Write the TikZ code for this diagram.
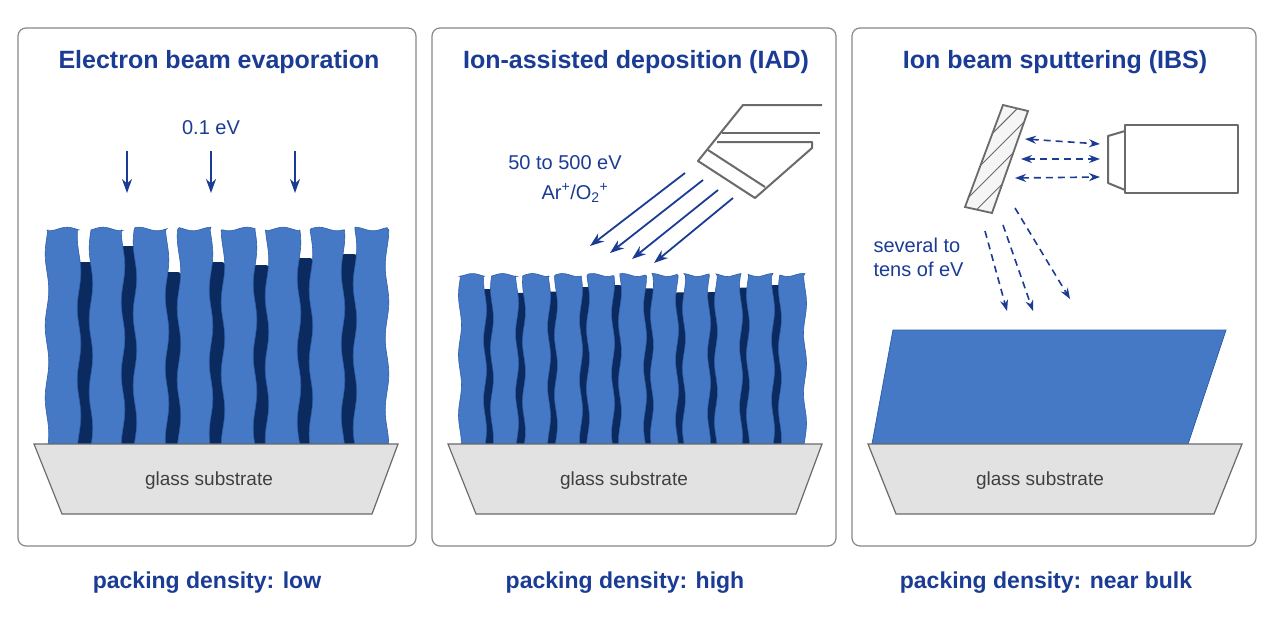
\documentclass[tikz,border=0pt]{standalone}
\usepackage{fontspec}
\setmainfont{Liberation Sans}
\usetikzlibrary{arrows.meta}
\definecolor{tblue}{HTML}{1B3C94}
\definecolor{colL}{HTML}{4579C6}
\definecolor{colE}{HTML}{2F5FA8}
\definecolor{colD}{HTML}{0B2A60}
\definecolor{subg}{HTML}{E2E2E2}
\definecolor{gline}{HTML}{6A6A6A}
\begin{document}
\begin{tikzpicture}[x=1pt,y=-1pt,
 panel/.style={draw=gline!80,line width=1.2pt,rounded corners=8pt,fill=white},
 title/.style={text=tblue,font=\fontsize{25}{28}\selectfont\bfseries},
 foot/.style={text=tblue,font=\fontsize{23}{26}\selectfont\bfseries},
 lab/.style={text=tblue,font=\fontsize{20}{24}\selectfont},
 sub/.style={fill=subg,draw=gline,line width=1.2pt},
 sublab/.style={text=black!75,font=\fontsize{19}{22}\selectfont},
 col/.style={fill=colL,draw=colE,line width=0.6pt},
 arr/.style={draw=tblue,line width=1.8pt,-{Stealth[length=14pt,width=10pt]}},
 darr/.style={draw=tblue,line width=1.6pt,dash pattern=on 7pt off 5pt,-{Stealth[length=11pt,width=8pt]}},
 ddarr/.style={draw=tblue,line width=1.6pt,dash pattern=on 7pt off 5pt,{Stealth[length=11pt,width=8pt]}-{Stealth[length=11pt,width=8pt]}},
 dev/.style={draw=gline,line width=2pt,line join=round}]
\useasboundingbox (0,0) rectangle (1280,640);
\fill[white] (0,0) rectangle (1280,640);
% panels
\draw[panel] (18,28) rectangle (416,546);
\draw[panel] (432,28) rectangle (836,546);
\draw[panel] (852,28) rectangle (1256,546);
\node[title] (t1) at (219,62) {Electron beam evaporation};
\node[title] (t2) at (636,62) {Ion-assisted deposition (IAD)};
\node[title] (t3) at (1055,62) {Ion beam sputtering (IBS)};
\node[foot] (f1) at (207,583) {packing density: low};
\node[foot] (f2) at (625,583) {packing density: high};
\node[foot] (f3) at (1046,583) {packing density: near bulk};
% ---------- panel 1 ----------
\foreach \g/\h in {79/262,123/246,167/272,211/262,255/265,299/258,343/254}
  \fill[colD, rounded corners=3pt] (\g-2,\h) rectangle (\g+14,445);
\foreach \i in {0,...,7}{
  \pgfmathsetmacro\a{47+44*\i}\pgfmathsetmacro\b{\a+32}
  \filldraw[col] plot[domain=444:230,samples=30,smooth] ({\a+1.8*sin(5*(\x-200)+30*\i)},\x)
    -- plot[domain=\a:\b,samples=12,smooth] (\x,{229+1.8*sin(10*(\x-40))})
    -- plot[domain=230:444,samples=30,smooth] ({\b+1.8*sin(5*(\x-200)+30*\i+90)},\x) -- cycle;}
\draw[sub] (34,444) -- (398,444) -- (372,514) -- (62,514) -- cycle;
\node[sublab] (s1) at (209,481) {glass substrate};
\node[lab] (e1) at (211,128) {0.1 eV};
\foreach \x [count=\k] in {127,211,295}{
  \coordinate (a1s\k) at (\x,151); \coordinate (a1e\k) at (\x,193);
  \draw[arr] (a1s\k) -- (a1e\k);}
% ---------- panel 2 ----------
\foreach \i in {0,...,9}
  \fill[colD,rounded corners=2pt] (460+32*\i+23,{289+4*sin(70*\i)}) rectangle (460+32*\i+34,445);
\foreach \i in {0,...,10}{
  \pgfmathsetmacro\a{460+32*\i}\pgfmathsetmacro\b{\a+25}
  \filldraw[col] plot[domain=444:276,samples=25,smooth] ({\a+1.5*sin(6*(\x-250)+40*\i)},\x)
    -- plot[domain=\a:\b,samples=10,smooth] (\x,{275+1.5*sin(12*(\x-450))})
    -- plot[domain=276:444,samples=25,smooth] ({\b+1.5*sin(6*(\x-250)+40*\i+90)},\x) -- cycle;}
\draw[sub] (448,444) -- (822,444) -- (796,514) -- (476,514) -- cycle;
\node[sublab] (s2) at (624,481) {glass substrate};
\node[lab] (e2) at (565,163) {50 to 500 eV};
\node[lab] (e2b) at (575,193) {Ar\textsuperscript{+}/O\textsubscript{2}\textsuperscript{+}};
% ion gun
\draw[dev] (822,105) -- (743,105) -- (698,161) -- (755,198) -- (812,148) -- (812,142) -- (717,142);
\draw[dev] (722,133) -- (820,133);
\draw[dev] (708,150) -- (765,187);
\foreach \sx/\sy/\ex/\ey [count=\k] in {685/173/590/246, 703/180/610/253, 718/190/632/259, 733/198/654/263}{
  \coordinate (a2s\k) at (\sx,\sy); \coordinate (a2e\k) at (\ex,\ey);
  \draw[arr] (a2s\k) -- (a2e\k);}
% ---------- panel 3 ----------
\filldraw[fill=colL,draw=colE,line width=0.8pt] (893,330) -- (1226,330) -- (1188,444) -- (872,444) -- cycle;
\draw[sub] (868,444) -- (1242,444) -- (1214,514) -- (896,514) -- cycle;
\node[sublab] (s3) at (1040,481) {glass substrate};
% target
\filldraw[fill=gray!8,draw=gline,line width=1.8pt] (1003,105) -- (1028,111) -- (992,213) -- (965,207) -- cycle;
\begin{scope}
\clip (1003,105) -- (1028,111) -- (992,213) -- (965,207) -- cycle;
\foreach \d in {-75,-45,-15,15,45,75} \draw[gline,line width=0.9pt] (996-\d*0.33,160+\d) ++(-40,40) -- ++(80,-80);
\end{scope}
% IBS gun
\draw[dev,line width=2pt] (1125,125) rectangle (1238,193);
\draw[dev,line width=2pt] (1125,131) -- (1108,136) -- (1108,183) -- (1125,190);
\foreach \sx/\sy/\ex/\ey [count=\k] in {1025/139/1100/144, 1021/159/1100/159, 1015/178/1100/177}{
  \coordinate (b1s\k) at (\sx,\sy); \coordinate (b1e\k) at (\ex,\ey);
  \draw[ddarr] (b1s\k) -- (b1e\k);}
\foreach \sx/\sy/\ex/\ey [count=\k] in {985/231/1007/311, 1003/225/1033/311, 1015/208/1070/299}{
  \coordinate (b2s\k) at (\sx,\sy); \coordinate (b2e\k) at (\ex,\ey);
  \draw[darr] (b2s\k) -- (b2e\k);}
\node[lab,align=left,anchor=west] (e3) at (870,257) {several to\\tens of eV};
\end{tikzpicture}
\end{document}
